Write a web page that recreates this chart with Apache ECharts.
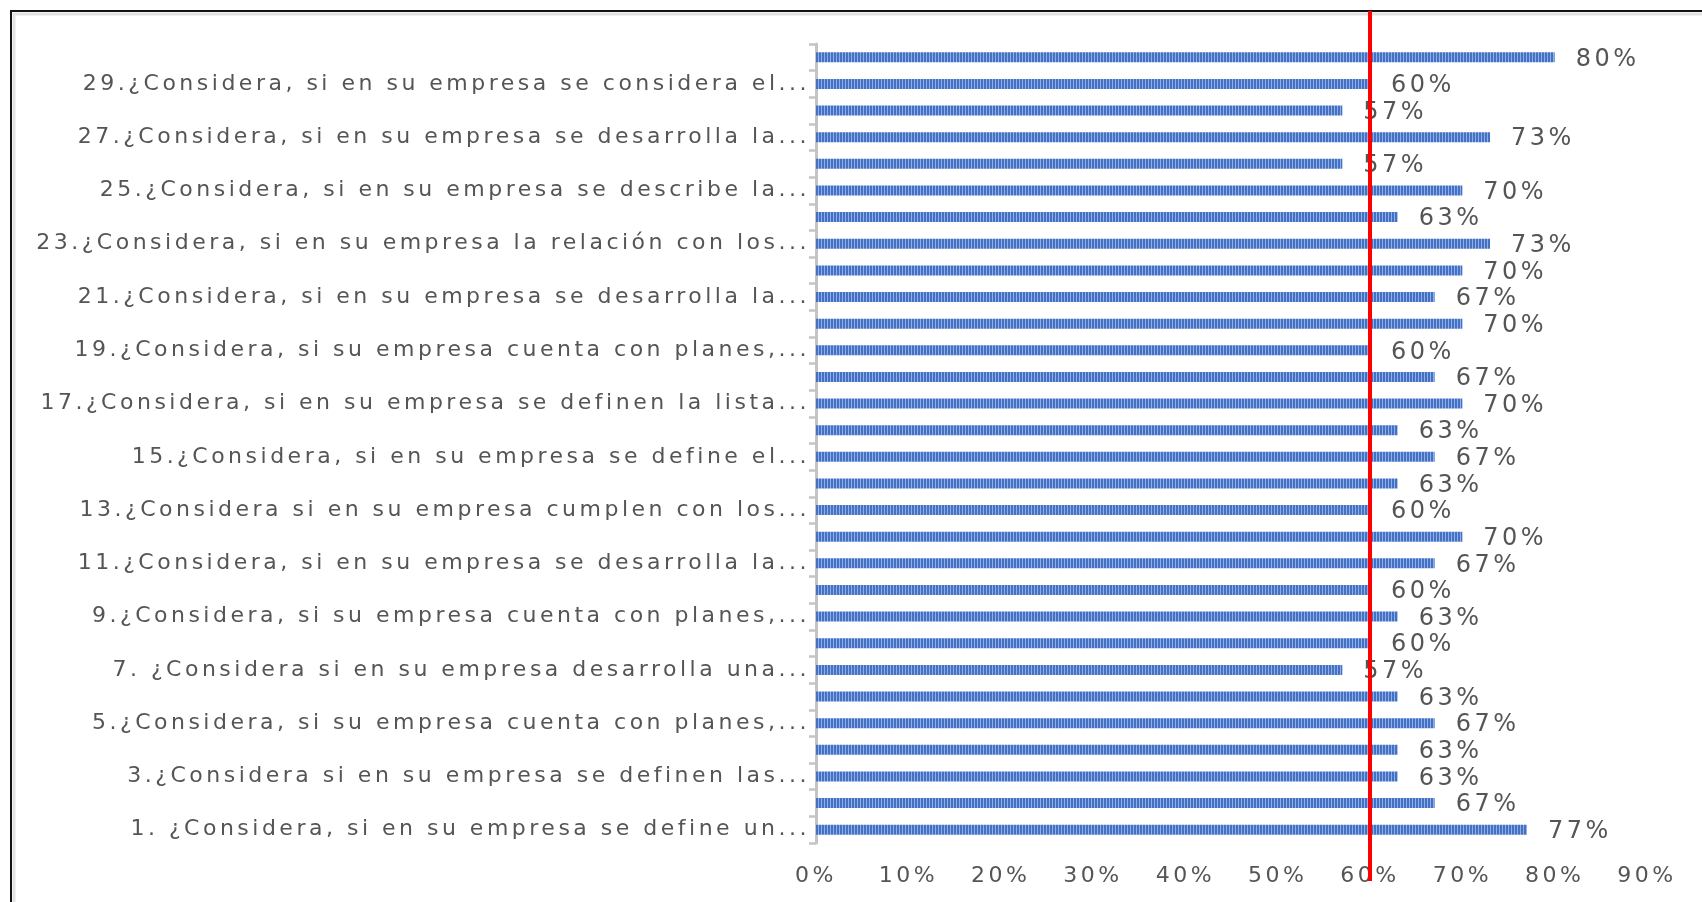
<!DOCTYPE html>
<html>
<head>
<meta charset="utf-8">
<title>Encuesta – porcentaje por pregunta</title>
<script src="https://cdn.jsdelivr.net/npm/echarts@6/dist/echarts.min.js"></script>
<style>
  html, body { margin: 0; padding: 0; background: #ffffff; }
  #chart { width: 1702px; height: 902px; }
</style>
</head>
<body>
<div id="chart"></div>
<script>
// Question labels (only the odd-numbered ones are printed on the axis)
const preguntas = [
  '1. ¿Considera, si en su empresa se define un...', '2',
  '3.¿Considera si en su empresa se definen las...', '4',
  '5.¿Considera, si su empresa cuenta con planes,...', '6',
  '7. ¿Considera si en su empresa desarrolla una...', '8',
  '9.¿Considera, si su empresa cuenta con planes,...', '10',
  '11.¿Considera, si en su empresa se desarrolla la...', '12',
  '13.¿Considera si en su empresa cumplen con los...', '14',
  '15.¿Considera, si en su empresa se define el...', '16',
  '17.¿Considera, si en su empresa se definen la lista...', '18',
  '19.¿Considera, si su empresa cuenta con planes,...', '20',
  '21.¿Considera, si en su empresa se desarrolla la...', '22',
  '23.¿Considera, si en su empresa la relación con los...', '24',
  '25.¿Considera, si en su empresa se describe la...', '26',
  '27.¿Considera, si en su empresa se desarrolla la...', '28',
  '29.¿Considera, si en su empresa se considera el...', '30'
];

// Percentage of favourable answers, question 1 .. 30
const porcentajes = [
  77, 67, 63, 63, 67, 63, 57, 60, 63, 60,
  67, 70, 60, 63, 67, 63, 70, 67, 60, 70,
  67, 70, 73, 63, 70, 57, 73, 57, 60, 80
];

// Value-axis ticks (percent)
const ejeMin = 0;
const ejeMax = 90;
const ejePaso = 10;

// Reference threshold marked in red
const umbral = 60;

// Wide tracking for all chart text
const TRACKING = '3.5px';
(function () {
  const proto = CanvasRenderingContext2D.prototype;
  const fontDesc = Object.getOwnPropertyDescriptor(proto, 'font');
  if (!fontDesc || !('letterSpacing' in proto)) return;
  Object.defineProperty(proto, 'font', {
    configurable: true,
    get() { return fontDesc.get.call(this); },
    set(v) { fontDesc.set.call(this, v); this.letterSpacing = TRACKING; }
  });
})();

// Striped fill for the bars
const rayas = document.createElement('canvas');
rayas.width = 3; rayas.height = 4;
(function () {
  const c = rayas.getContext('2d');
  c.fillStyle = '#4271C6';
  c.fillRect(0, 0, 3, 4);
  c.fillStyle = '#93AEE0';
  c.fillRect(2, 0, 1, 4);
})();

const FONT = '"DejaVu Sans", Verdana, sans-serif';
const GRIS = '#555555';

const chart = echarts.init(document.getElementById('chart'), null, { renderer: 'canvas' });

chart.setOption({
  backgroundColor: '#ffffff',
  animation: false,
  grid: { left: 816, right: 55, top: 44, bottom: 59, containLabel: false, outerBoundsMode: 'none' },
  xAxis: {
    type: 'value',
    min: ejeMin,
    max: ejeMax,
    interval: ejePaso,
    axisLine: { show: false },
    axisTick: { show: false },
    splitLine: { show: false },
    axisLabel: {
      formatter: '{value}%',
      color: GRIS,
      fontFamily: FONT,
      fontSize: 22,
      margin: 21
    }
  },
  yAxis: {
    type: 'category',
    data: preguntas,
    axisLine: { show: true, lineStyle: { color: '#C4C4C4', width: 3 } },
    axisTick: { show: true, length: 7, interval: 0, lineStyle: { color: '#C4C4C4', width: 2.5 } },
    axisLabel: {
      interval: 1,
      color: GRIS,
      fontFamily: FONT,
      fontSize: 22,
      margin: 6
    }
  },
  series: [{
    type: 'bar',
    data: porcentajes,
    barWidth: 10,
    itemStyle: { color: { image: rayas, repeat: 'repeat' } },
    label: {
      show: true,
      position: 'right',
      distance: 21,
      offset: [0, 2],
      formatter: '{c}%',
      color: GRIS,
      fontFamily: FONT,
      fontSize: 24
    }
  }]
});

// Chart frame and the red threshold line
const xUmbral = chart.convertToPixel({ xAxisIndex: 0 }, umbral);
chart.setOption({
  graphic: [
    {
      type: 'polyline',
      shape: { points: [[14, 902], [14, 14], [1702, 14]] },
      style: { stroke: '#E2E2E2', lineWidth: 3, fill: null },
      silent: true
    },
    {
      type: 'polyline',
      shape: { points: [[11, 902], [11, 11], [1702, 11]] },
      style: { stroke: '#111111', lineWidth: 2, fill: null },
      silent: true
    },
    {
      type: 'line',
      shape: { x1: xUmbral, y1: 11, x2: xUmbral, y2: 881 },
      style: { stroke: '#FF0000', lineWidth: 4 },
      silent: true,
      z: 100
    }
  ]
});
</script>
</body>
</html>
